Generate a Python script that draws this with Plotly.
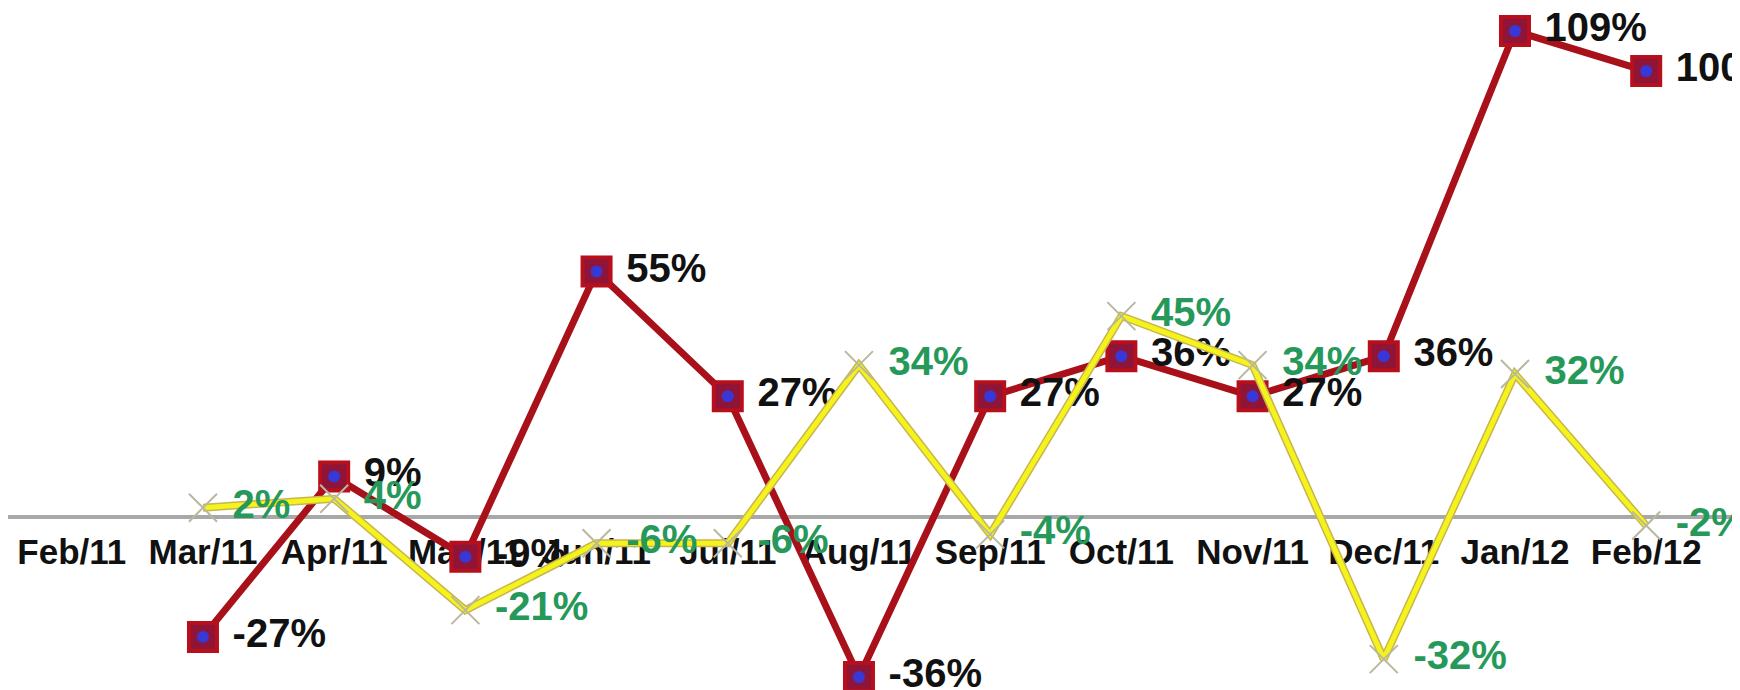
import plotly.graph_objects as go

months = ["Feb/11", "Mar/11", "Apr/11", "May/11", "Jun/11", "Jul/11", "Aug/11",
          "Sep/11", "Oct/11", "Nov/11", "Dec/11", "Jan/12", "Feb/12"]
point_months = months[1:]
red_values = [-27, 9, -9, 55, 27, -36, 27, 36, 27, 36, 109, 100]
yellow_values = [2, 4, -21, -6, -6, 34, -4, 45, 34, -32, 32, -2]

xi = list(range(len(months)))
px = [months.index(m) for m in point_months]

fig = go.Figure()

# red series
fig.add_trace(go.Scatter(
    x=px, y=red_values, mode="lines+markers+text",
    text=[f"\u00a0{v}%" for v in red_values], textposition="middle right",
    textfont=dict(family="Liberation Sans, Arial", size=40, color="#111111",
                  weight="bold"),
    line=dict(color="#a8101a", width=7),
    marker=dict(symbol="square", size=28, color="#8e1538",
                line=dict(color="#b80f1c", width=4)),
    cliponaxis=False, showlegend=False))
fig.add_trace(go.Scatter(
    x=px, y=red_values, mode="markers",
    marker=dict(symbol="circle", size=12, color="#3838d8", line=dict(width=0)),
    cliponaxis=False, showlegend=False, hoverinfo="skip"))

# yellow series outline
fig.add_trace(go.Scatter(
    x=px, y=yellow_values, mode="lines",
    line=dict(color="#c8b450", width=8),
    cliponaxis=False, showlegend=False, hoverinfo="skip"))
fig.add_trace(go.Scatter(
    x=px, y=yellow_values, mode="lines+markers+text",
    text=[f"\u00a0{v}%" for v in yellow_values], textposition="middle right",
    textfont=dict(family="Liberation Sans, Arial", size=40, color="#26995a",
                  weight="bold"),
    line=dict(color="#f4f41c", width=5),
    marker=dict(symbol="x-thin", size=28, color="#b8b8a0",
                line=dict(color="#b8b8a0", width=2)),
    cliponaxis=False, showlegend=False))

y_lo, y_hi = -40.72, 114.16
fig.update_layout(
    width=1740, height=690,
    margin=dict(l=0, r=0, t=0, b=0),
    paper_bgcolor="white", plot_bgcolor="white",
    font=dict(family="Liberation Sans, Arial"),
    xaxis=dict(
        tickmode="array", tickvals=xi, ticktext=months,
        range=[-0.486, 12.776], showgrid=False, zeroline=False,
        showline=False, ticks="", anchor="free",
        position=(0 - y_lo) / (y_hi - y_lo),
        tickfont=dict(family="Liberation Sans, Arial", size=35, color="#111111",
                      weight="bold"),
        layer="below traces", ticklabelstandoff=11),
    yaxis=dict(
        range=[y_lo, y_hi], showgrid=False, showticklabels=False,
        zeroline=True, zerolinecolor="#a8a8a8", zerolinewidth=4,
        showline=False, ticks="", layer="below traces"),
)

fig.write_html("out.html")
